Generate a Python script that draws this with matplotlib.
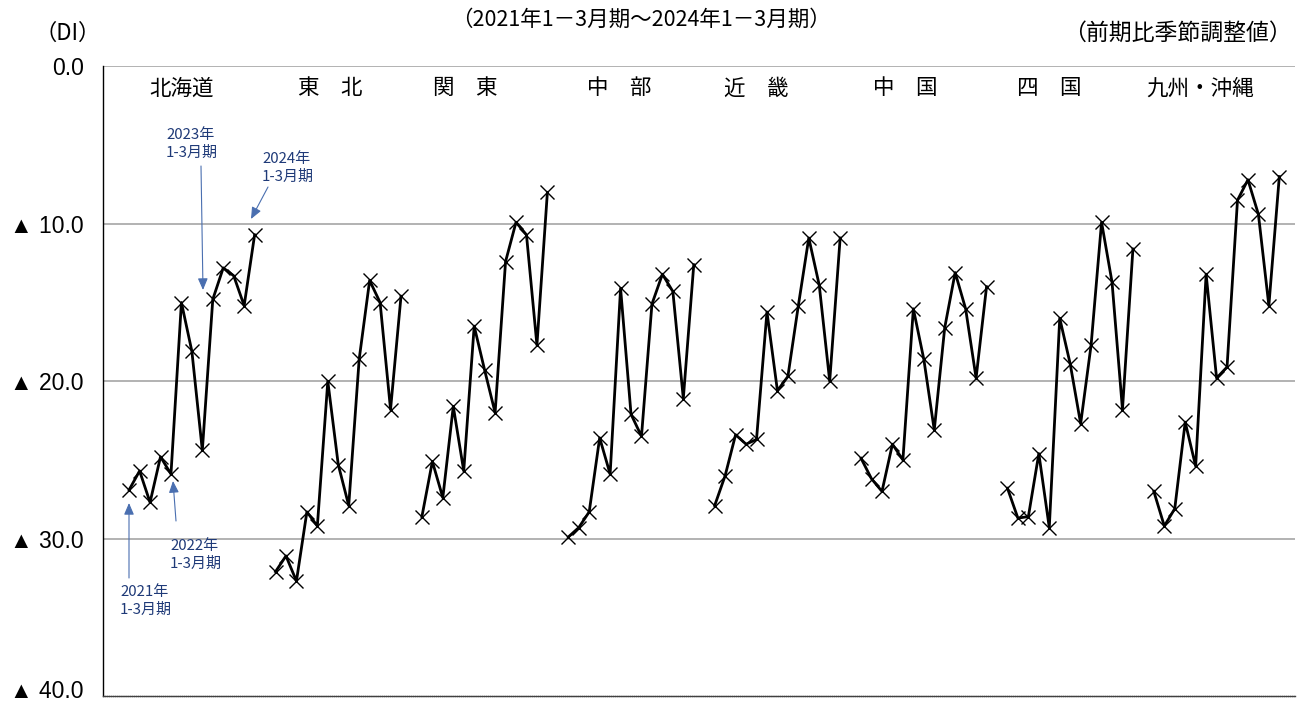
import matplotlib
matplotlib.use("Agg")
import matplotlib.pyplot as plt
from matplotlib.transforms import ScaledTranslation

plt.rcParams['font.family'] = ['Noto Sans CJK JP', 'DejaVu Sans']

regions = ["北海道", "東　北", "関　東", "中　部", "近　畿", "中　国", "四　国", "九州・沖縄"]

hokkaido = [26.9, 25.7, 27.7, 24.8, 25.9, 15.0, 18.1, 24.4, 14.8, 12.8, 13.3, 15.2, 10.7]
tohoku   = [32.1, 31.1, 32.7, 28.3, 29.2, 20.0, 25.3, 27.9, 18.6, 13.6, 15.0, 21.8, 14.6]
kanto    = [28.6, 25.1, 27.4, 21.6, 25.7, 16.5, 19.3, 22.0, 12.4, 9.9, 10.7, 17.7, 8.0]
chubu    = [29.9, 29.3, 28.3, 23.6, 25.9, 14.1, 22.1, 23.5, 15.1, 13.2, 14.3, 21.1, 12.6]
kinki    = [27.9, 26.0, 23.4, 24.0, 23.7, 15.6, 20.6, 19.7, 15.2, 10.9, 13.9, 20.0, 10.9]
chugoku  = [24.9, 26.2, 27.0, 24.0, 25.0, 15.4, 18.6, 23.1, 16.6, 13.1, 15.4, 19.8, 14.0]
shikoku  = [26.8, 28.7, 28.6, 24.6, 29.3, 16.0, 18.9, 22.7, 17.7, 9.9, 13.7, 21.8, 11.6]
kyushu   = [27.0, 29.2, 28.1, 22.6, 25.4, 13.2, 19.8, 19.1, 8.5, 7.2, 9.4, 15.2, 7.0]

series = [hokkaido, tohoku, kanto, chubu, kinki, chugoku, shikoku, kyushu]

yticks = [0, 10, 20, 30, 40]
ytick_labels = ["0.0", "▲ 10.0", "▲ 20.0", "▲ 30.0", "▲ 40.0"]

title_text = "（2021年1－3月期～2024年1－3月期）"
left_unit = "（DI）"
right_unit = "（前期比季節調整値）"

W, H = 1308, 706
fig = plt.figure(figsize=(W / 100, H / 100), dpi=100)
ax = fig.add_axes([103 / W, 1 - 696 / H, (1295 - 103) / W, (696 - 66.4) / H])

group_pitch = 14
offset = 2
for g, vals in enumerate(series):
    xs = [offset + g * group_pitch + i for i in range(len(vals))]
    ax.plot(xs, vals, color='black', lw=2.0, marker='x', markersize=9.5,
            markeredgewidth=1.0, markeredgecolor='black', zorder=3)

ax.set_xlim(-0.5, 113.5)
ax.set_ylim(40, 0)
ax.set_xticks([])
ax.set_yticks(yticks)
ax.set_yticklabels(ytick_labels, family=['Liberation Sans', 'DejaVu Sans'], fontsize=16.5)
ax.tick_params(axis='y', length=0, pad=14)
# keep the bottom label inside the figure
last = ax.get_yticklabels()[-1]
last.set_transform(last.get_transform() + ScaledTranslation(0, 5 / 72, fig.dpi_scale_trans))

for yv in [0, 10, 20, 30]:
    ax.axhline(yv, color='#a6a6a6', lw=1.2, zorder=1)
for s in ['top', 'right']:
    ax.spines[s].set_visible(False)
ax.spines['left'].set_color('black')
ax.spines['left'].set_linewidth(1.0)
ax.spines['bottom'].set_color('#404040')
ax.spines['bottom'].set_linewidth(1.0)
ax.spines['bottom'].set_linestyle((0, (1, 0.5)))

# region labels
label_x = [7.0, 21.2, 34.1, 48.9, 62.0, 76.2, 90.0, 104.4]
for lx, name in zip(label_x, regions):
    ax.text(lx, 1.4, name, ha='center', va='center', fontsize=15.5, color='black')

# header texts
fig.text(641 / W, 1 - 20 / H, title_text, ha='center', va='center', fontsize=15.5)
fig.text(34 / W, 1 - 33 / H, left_unit, ha='left', va='center', fontsize=16)
fig.text(1292 / W, 1 - 33 / H, right_unit, ha='right', va='center', fontsize=16.5)

# annotations
txt_col = '#1f3a78'
arr_col = '#4a6fb0'
def px2data(px, py):
    inv = ax.transData.inverted()
    disp = fig.transFigure.transform((px / W, 1 - py / H))
    return inv.transform(disp)

annos = [
    ("2021年\n1-3月期", (120, 601), (129, 578), (129, 503)),
    ("2022年\n1-3月期", (170, 555), (176, 521), (173, 481)),
    ("2023年\n1-3月期", (166, 144), (201, 166), (203, 290)),
    ("2024年\n1-3月期", (262, 168), (268, 187), (251, 219)),
]
for text, tpos, start, end in annos:
    fig.text(tpos[0] / W, 1 - tpos[1] / H, text, ha='left', va='center', fontsize=10.8,
             color=txt_col, linespacing=1.3)
    s = px2data(*start)
    e = px2data(*end)
    ax.annotate('', xy=e, xytext=s,
                arrowprops=dict(arrowstyle='-|>,head_length=0.7,head_width=0.3',
                                color=arr_col, lw=0.8, shrinkA=0, shrinkB=0),
                annotation_clip=False)

fig.savefig('out.png', dpi=100)
